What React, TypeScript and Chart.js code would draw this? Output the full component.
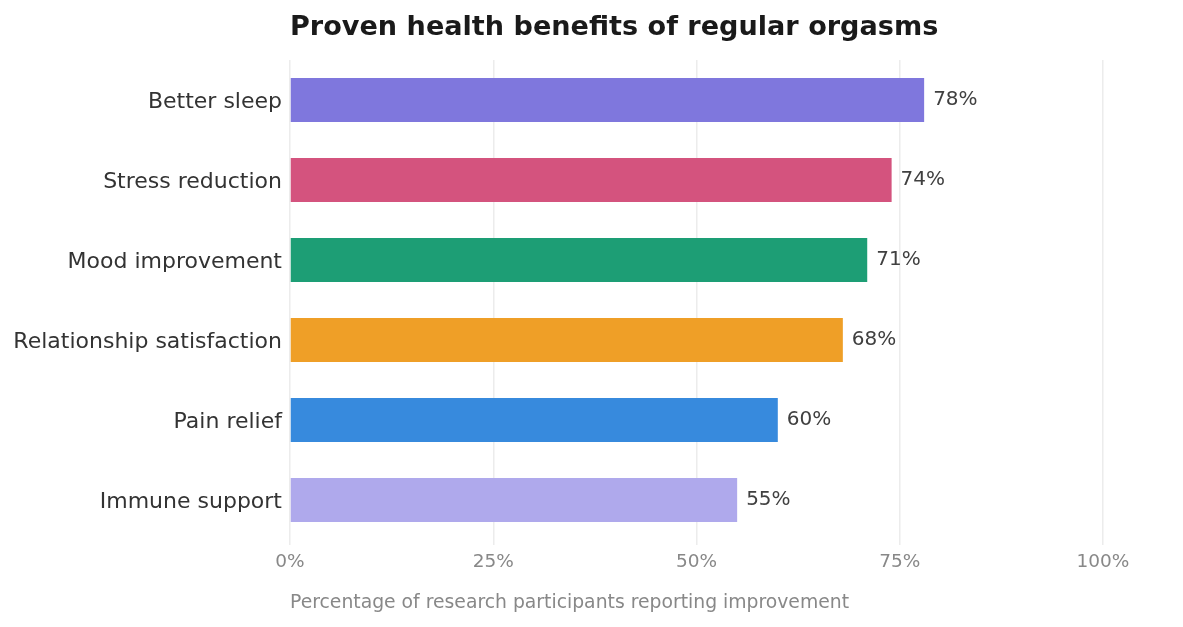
import React, { useEffect, useRef } from "react";
import { Chart, registerables } from "chart.js";

Chart.register(...registerables);

const categories = [
  "Better sleep",
  "Stress reduction",
  "Mood improvement",
  "Relationship satisfaction",
  "Pain relief",
  "Immune support",
];
const values = [78, 74, 71, 68, 60, 55];
const barColors = ["#7F77DD", "#D4537E", "#1D9E75", "#EF9F27", "#378ADD", "#AFA9EC"];
const xTicks = [0, 25, 50, 75, 100];
const titleText = "Proven health benefits of regular orgasms";
const xAxisTitle = "Percentage of research participants reporting improvement";

const valueLabels = {
  id: "valueLabels",
  afterDatasetsDraw(chart: any) {
    const ctx = chart.ctx;
    const meta = chart.getDatasetMeta(0);
    ctx.save();
    ctx.font = "20px 'DejaVu Sans'";
    ctx.fillStyle = "#404040";
    ctx.textAlign = "left";
    ctx.textBaseline = "middle";
    meta.data.forEach((bar: any, i: number) => {
      ctx.fillText(values[i] + "%", bar.x + 9, bar.y);
    });
    ctx.restore();
  },
};

export default function App() {
  const ref = useRef<HTMLCanvasElement>(null);
  useEffect(() => {
    if (!ref.current) return;
    const chart = new Chart(ref.current, {
      type: "bar",
      data: {
        labels: categories,
        datasets: [
          {
            data: values,
            backgroundColor: barColors,
            categoryPercentage: 0.55,
            barPercentage: 1,
          },
        ],
      },
      options: {
        indexAxis: "y",
        animation: false,
        responsive: false,
        maintainAspectRatio: false,
        layout: { padding: { left: 0, right: 80, top: 0, bottom: 0 } },
        plugins: {
          legend: { display: false },
          tooltip: { enabled: false },
          title: {
            display: true,
            text: titleText,
            align: "start",
            fullSize: false,
            color: "#1a1a1a",
            font: { family: "'DejaVu Sans'", size: 27.1, weight: "bold" },
            padding: { top: 11.5, bottom: 16 },
          },
        },
        scales: {
          x: {
            min: 0,
            max: 100,
            afterBuildTicks(scale: any) {
              scale.ticks = xTicks.map((v) => ({ value: v }));
            },
            afterFit(scale: any) {
              scale.height = 87;
            },
            border: { display: false },
            grid: { color: "#ececec", lineWidth: 1.5, drawTicks: true, tickLength: 5 },
            ticks: {
              padding: 6,
              color: "#888888",
              font: { family: "'DejaVu Sans'", size: 18.5 },
              callback: (v: any) => v + "%",
            },
            title: {
              display: true,
              text: xAxisTitle,
              align: "start",
              color: "#888888",
              font: { family: "'DejaVu Sans'", size: 18.8 },
              padding: { top: 0, bottom: 13 },
            },
          },
          y: {
            afterFit(scale: any) {
              scale.width = 290;
            },
            border: { display: false },
            grid: { display: false, drawTicks: false },
            ticks: {
              padding: 8,
              labelOffset: 2,
              color: "#333333",
              font: { family: "'DejaVu Sans'", size: 22 },
            },
          },
        },
      },
      plugins: [valueLabels],
    } as any);
    return () => chart.destroy();
  }, []);
  return (
    <div style={{ position: "fixed", left: 0, top: 0, width: 1183, height: 627, background: "#fff" }}>
      <canvas ref={ref} width={1183} height={627} style={{ width: 1183, height: 627 }} />
    </div>
  );
}
